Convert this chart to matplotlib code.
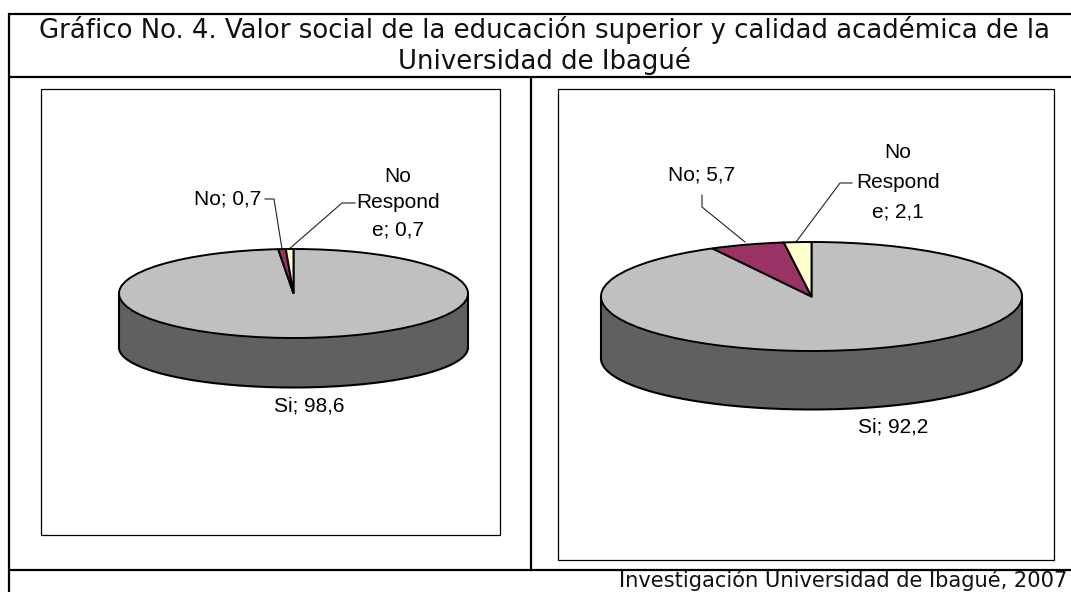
import numpy as np
import matplotlib
matplotlib.use("Agg")
import matplotlib.pyplot as plt

W, H = 1071, 592

title_lines = ["Gráfico No. 4. Valor social de la educación superior y calidad académica de la",
               "Universidad de Ibagué"]
footer = "Investigación Universidad de Ibagué, 2007"
categories = ["Si", "No", "No Responde"]
values_left = [98.6, 0.7, 0.7]
values_right = [92.2, 5.7, 2.1]
colors = ["#C0C0C0", "#993366", "#FFFFCC"]
side_color = "#606060"

fig = plt.figure(figsize=(W / 100, H / 100), dpi=100, facecolor="white")
bg = fig.add_axes([0, 0, 1, 1])
bg.set_xlim(0, W)
bg.set_ylim(H, 0)
bg.axis("off")


def hline(x0, x1, y, lw=1.6, c="black"):
    bg.plot([x0, x1], [y, y], color=c, lw=lw, solid_capstyle="butt")


def vline(x, y0, y1, lw=1.6, c="black"):
    bg.plot([x, x], [y0, y1], color=c, lw=lw, solid_capstyle="butt")


hline(8, W, 14)
hline(8, W, 77)
hline(8, W, 570)
vline(9, 13, 592)
vline(531, 77, 570)
for x0, x1, y0, y1 in [(40.5, 500, 89, 535), (558, 1054, 88.5, 559.5)]:
    bg.add_patch(plt.Rectangle((x0, y0), x1 - x0, y1 - y0, fill=False, ec="black", lw=0.9))

title_style = dict(ha="center", va="center", fontsize=18.7, family="DejaVu Sans", color="#111111")
bg.text(544.5, 30, title_lines[0], **title_style)
bg.text(544.5, 61, title_lines[1], **title_style)
bg.text(1067, 587, footer, ha="right", va="baseline", fontsize=15.1, family="DejaVu Sans", color="#111111")


def pie3d(values, cx, cy, a, b, side, lower_b):
    d = side / b
    lb = lower_b / b
    bottom = d + lb
    ax = fig.add_axes([(cx - a) / W, 1 - (cy + side + lower_b) / H, 2 * a / W, (b + side + lower_b) / H])
    ax.patch.set_alpha(0)
    t = np.linspace(np.pi, 2 * np.pi, 200)
    xs = np.cos(t)
    ys = np.sin(t)
    ax.fill_between(xs, lb * ys - d, ys, color=side_color, ec="none", clip_on=False)
    ax.plot(xs, lb * ys - d, color="black", lw=1.5, clip_on=False)
    ax.plot([-1, -1], [0, -d], color="black", lw=1.5, clip_on=False)
    ax.plot([1, 1], [0, -d], color="black", lw=1.5, clip_on=False)
    ax.pie(values, colors=colors, startangle=90, counterclock=False, radius=1,
           wedgeprops=dict(edgecolor="black", linewidth=1.4, clip_on=False))
    ax.set_aspect("auto")
    ax.set_xlim(-1, 1)
    ax.set_ylim(-bottom, 1)
    ax.axis("off")


pie3d(values_left, 293.5, 293.5, 174.5, 44.5, 54, 40)
pie3d(values_right, 811.5, 296.5, 210.5, 54.5, 62, 51)

lab = dict(ha="center", va="center", fontsize=15, family="Liberation Sans", color="black")
lead = dict(color="#222222", lw=0.8)


def label(x, y, value, prefix=""):
    bg.text(x, y, f"{prefix}{value:.1f}".replace(".", ","), **lab)


def nr_label(x, ys, value):
    bg.text(x, ys[0], "No", **lab)
    bg.text(x, ys[1], "Respond", **lab)
    bg.text(x, ys[2], f"e; {value:.1f}".replace(".", ","), **lab)


# left pie
label(228, 199, values_left[1], "No; ")
nr_label(398, (176, 203, 230), values_left[2])
label(309, 406, values_left[0], "Si; ")
bg.plot([265, 274, 282], [199, 199, 249], **lead)
bg.plot([355, 342, 288], [203, 203, 250], **lead)

# right pie
label(702, 175, values_right[1], "No; ")
nr_label(898, (153, 183, 212), values_right[2])
label(893, 427, values_right[0], "Si; ")
bg.plot([702, 702, 745], [195, 207, 242], **lead)
bg.plot([852, 840, 796], [183, 183, 242], **lead)

fig.savefig("out.png", dpi=100)
